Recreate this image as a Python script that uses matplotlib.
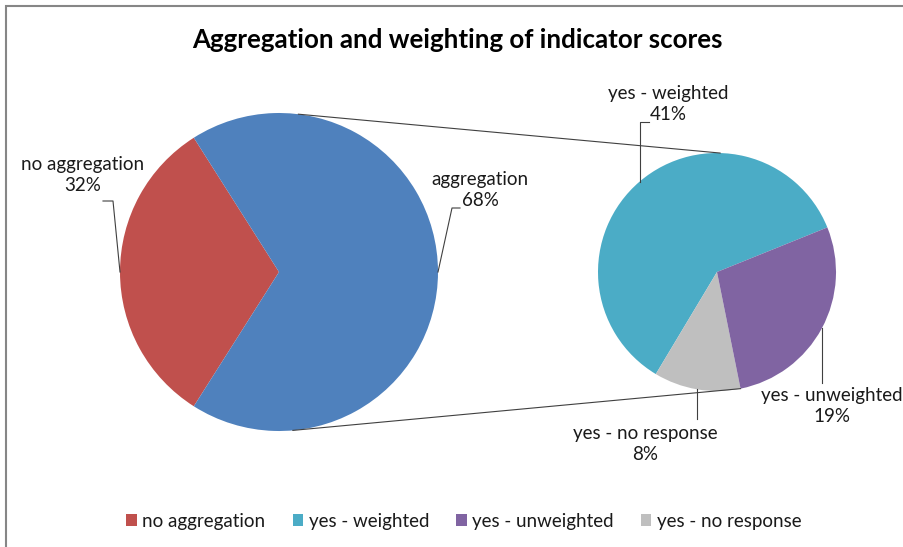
import numpy as np
import matplotlib.pyplot as plt

W, H = 904, 547

title = "Aggregation and weighting of indicator scores"

# main pie
main_labels = ["no aggregation", "aggregation"]
main_values = [32, 68]
# secondary pie (split of "aggregation")
sub_labels = ["yes - weighted", "yes - no response", "yes - unweighted"]
sub_values = [41, 8, 19]

legend_labels = ["no aggregation", "yes - weighted", "yes - unweighted", "yes - no response"]

c_main = ["#C0504D", "#4F81BD"]
c_sub = ["#4BACC6", "#BFBFBF", "#8064A2"]

plt.rcParams['font.family'] = ['Lato', 'DejaVu Sans']

fig = plt.figure(figsize=(W / 100, H / 100), dpi=100)
ax = fig.add_axes([0, 0, 1, 1])
ax.set_xlim(0, W)
ax.set_ylim(0, H)
ax.set_aspect('equal')
ax.axis('off')

def yp(y):
    # pixel row (from top) -> data y
    return H - y

main_c = (279, yp(272))
main_r = 159
sub_c = (717, yp(272))
sub_r = 119

main_start = 180 - main_values[0] / sum(main_values) * 360 / 2
w_main, _ = ax.pie(main_values, colors=c_main, center=main_c, radius=main_r,
                   startangle=main_start, counterclock=True,
                   wedgeprops=dict(linewidth=0))
w_sub, _ = ax.pie(sub_values, colors=c_sub, center=sub_c, radius=sub_r,
                  startangle=22, counterclock=True,
                  wedgeprops=dict(linewidth=0))
ax.set_xlim(0, W)
ax.set_ylim(0, H)

def on_circle(c, r, ang):
    a = np.deg2rad(ang)
    return c[0] + r * np.cos(a), c[1] + r * np.sin(a)

def mid(w):
    return (w.theta1 + w.theta2) / 2

# connector lines between the pies
for a1, a2 in [(83, 88.5), (-85, w_sub[2].theta1)]:
    p1 = on_circle(main_c, main_r, a1)
    p2 = on_circle(sub_c, sub_r, a2)
    ax.plot([p1[0], p2[0]], [p1[1], p2[1]], color="#404040", lw=0.8)

lc = "#404040"
tc = "#1a1a1a"
fs = 13.5
ls = 1.3

# no aggregation label
p = on_circle(main_c, main_r, mid(w_main[0]))
ax.plot([103, 113, p[0]], [yp(201), yp(201), p[1]], color=lc, lw=0.8)
ax.text(83, yp(175), f"{main_labels[0]}\n{main_values[0]}%", ha='center', va='center',
        fontsize=fs, linespacing=ls, color=tc)

# aggregation label
p = on_circle(main_c, main_r, mid(w_main[1]))
ax.plot([460, 452, p[0]], [yp(208), yp(208), p[1]], color=lc, lw=0.8)
ax.text(480, yp(190), f"{main_labels[1]}\n{main_values[1]}%", ha='center', va='center',
        fontsize=fs, linespacing=ls, color=tc)

# weighted
p = on_circle(sub_c, sub_r, mid(w_sub[0]))
ax.plot([649, p[0], p[0]], [yp(122), yp(122), p[1]], color=lc, lw=0.8)
ax.text(668, yp(104), f"{sub_labels[0]}\n{sub_values[0]}%", ha='center', va='center',
        fontsize=fs, linespacing=ls, color=tc)

# no response
p = on_circle(sub_c, sub_r, mid(w_sub[1]))
ax.plot([p[0], p[0]], [p[1], yp(419)], color=lc, lw=0.8)
ax.text(645, yp(444), f"{sub_labels[1]}\n{sub_values[1]}%", ha='center', va='center',
        fontsize=fs, linespacing=ls, color=tc)

# unweighted
p = on_circle(sub_c, sub_r, mid(w_sub[2]))
ax.plot([p[0], p[0]], [p[1], yp(383)], color=lc, lw=0.8)
ax.text(832, yp(406), f"{sub_labels[2]}\n{sub_values[2]}%", ha='center', va='center',
        fontsize=fs, linespacing=ls, color=tc)

ax.text(457, yp(40), title, ha='center', va='center', fontsize=18.6, fontweight='bold')

# outer frame (left and top edges visible)
ax.plot([6.5, 6.5, W + 5], [-5, yp(5.5), yp(5.5)], color="#868686", lw=1.5,
        solid_joinstyle='miter', clip_on=False)

handles = [w_main[0], w_sub[0], w_sub[2], w_sub[1]]
fig.legend(handles, legend_labels, loc='center', bbox_to_anchor=(464 / W, 26 / H),
           ncol=4, frameon=False, fontsize=fs, handlelength=0.55, handleheight=0.55,
           handletextpad=0.3, columnspacing=1.45, labelcolor=tc)

fig.savefig("out.png", dpi=100)
